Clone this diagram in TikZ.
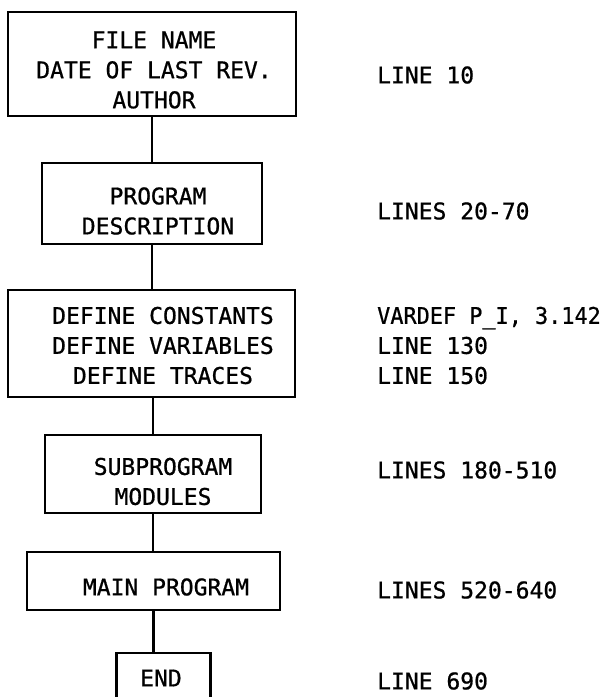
\documentclass[tikz,border=0pt]{standalone}
\usepackage{fontspec}
\newfontfamily\plotfont[FakeBold=0.8]{DejaVu Sans Mono}
\tikzset{box/.style={draw,line width=2.5pt,inner sep=0pt},
  link/.style={line width=2.5pt},
  txt/.style={font=\plotfont\fontsize{23}{30}\selectfont,align=center,inner sep=0pt},
  note/.style={font=\plotfont\fontsize{23}{30}\selectfont,align=left,anchor=west,inner sep=0pt}}

\begin{document}
\begin{tikzpicture}[x=1pt,y=-1pt]
  \useasboundingbox (0,0) rectangle (606,697);
  \clip (0,0) rectangle (606,697);
  % boxes
  \node[box,minimum width=288pt,minimum height=104pt] (head) at (152,64) {};
  \node[box,minimum width=220pt,minimum height=81pt] (desc) at (152,203.5) {};
  \node[box,minimum width=287pt,minimum height=107pt] (defs) at (151.5,343.5) {};
  \node[box,minimum width=216pt,minimum height=78pt] (subs) at (153,474) {};
  \node[box,minimum width=253pt,minimum height=58pt] (main) at (153.5,581) {};
  \node[box,minimum width=94pt,minimum height=60pt] (fin) at (163.5,683) {};
  % texts in the boxes
  \node[txt] (headtxt) at (154,70) {FILE NAME\\DATE OF LAST REV.\\AUTHOR};
  \node[txt] (desctxt) at (158,211) {PROGRAM\\DESCRIPTION};
  \node[txt] (defstxt) at (163,345.5) {DEFINE CONSTANTS\\DEFINE VARIABLES\\DEFINE TRACES};
  \node[txt] (substxt) at (163,481.5) {SUBPROGRAM\\MODULES};
  \node[txt] (maintxt) at (166,587) {MAIN PROGRAM};
  \node[txt] (fintxt) at (161,678) {END};
  % connectors
  \draw[link] (head.south) -- (head.south |- desc.north);
  \draw[link] (desc.south) -- (desc.south |- defs.north);
  \draw[link] (defs.south -| subs.north) -- (subs.north);
  \draw[link] (subs.south) -- (subs.south |- main.north);
  \draw[link] (main.south) -- (main.south |- fin.north);
  % line numbers
  \node[note] (l10) at (377,75) {LINE 10};
  \node[note] (l20) at (377,211) {LINES 20-70};
  \node[note] (l100) at (377,345.5) {\scalebox{0.95}[1]{VARDEF P\_I, 3.142}\\LINE 130\\LINE 150};
  \node[note] (l180) at (377,470) {LINES 180-510};
  \node[note] (l520) at (377,590) {LINES 520-640};
  \node[note] (l690) at (377,681) {LINE 690};
\end{tikzpicture}
\end{document}
